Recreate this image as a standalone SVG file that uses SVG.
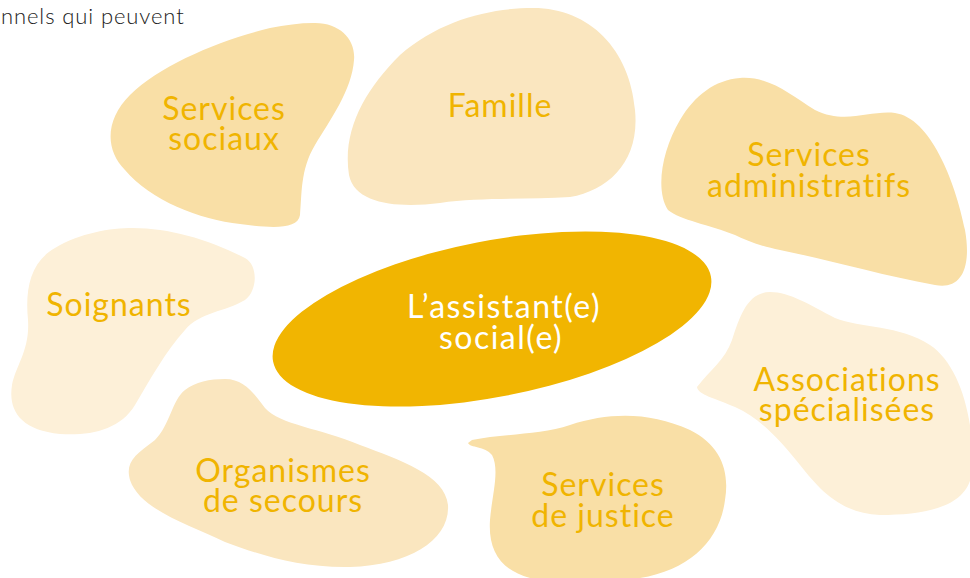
<svg xmlns="http://www.w3.org/2000/svg" width="970" height="578" viewBox="0 0 970 578">
<style>
.lbl{font-family:Lato,"Open Sans","Liberation Sans",sans-serif;font-size:32px;letter-spacing:1px;fill:#F0B400;text-anchor:middle}
.c{fill:#FFFFFF;letter-spacing:1.5px}
.b1{fill:#F9DFA6}
.b2{fill:#FAE6BF}
.b3{fill:#FDF0D8}
</style>
<rect width="970" height="578" fill="#FFFFFF"/>
<text x="1" y="24" font-family="Lato,'Open Sans','Liberation Sans',sans-serif" font-size="22" font-weight="300" letter-spacing="0.9" fill="#1A1A1A">nnels qui peuvent</text>
<g id="connectors"></g>
<g id="services-sociaux">
<path class="b1" d="M313,23 C340,22 356,40 354,60 C352,90 330,120 315,145 C300,170 302,195 300,215 C298,230 270,228 240,224 C200,220 150,200 125,170 C105,150 105,120 130,95 C160,65 220,40 270,28 C285,25 300,23 313,23 Z"/>
<text class="lbl" x="224" y="120">Services</text>
<text class="lbl" x="224" y="150">sociaux</text>
</g>
<g id="famille">
<path class="b2" d="M533,8 C590,8 630,50 635,110 C640,160 610,190 570,197 C530,200 480,197 440,203 C400,208 355,205 349,175 C342,130 365,90 400,55 C440,20 490,8 533,8 Z"/>
<text class="lbl" x="500" y="117">Famille</text>
</g>
<g id="services-administratifs">
<path class="b1" d="M740,78 C770,76 790,95 815,110 C845,125 870,110 895,113 C930,118 955,180 965,230 C972,270 960,290 935,285 C880,275 830,260 780,250 C760,246 745,240 735,235 C710,225 680,220 668,210 C655,190 662,150 680,120 C695,95 715,80 740,78 Z"/>
<text class="lbl" x="809" y="166">Services</text>
<text class="lbl" x="809" y="197">administratifs</text>
</g>
<g id="soignants">
<path class="b3" d="M133,228 C170,228 210,240 245,258 C258,265 258,290 245,300 C225,312 200,312 185,330 C165,352 150,380 135,405 C120,430 90,436 60,434 C20,430 8,410 12,385 C16,365 30,350 28,320 C25,290 30,262 55,248 C80,233 110,228 133,228 Z"/>
<text class="lbl" x="119" y="316">Soignants</text>
</g>
<g id="associations">
<path class="b3" d="M770,292 C790,292 810,305 835,318 C860,328 900,325 930,345 C960,365 975,420 972,470 C970,505 930,515 880,515 C840,513 820,490 800,465 C780,440 760,418 735,407 C715,398 698,395 697,387 C710,370 725,360 732,340 C740,315 748,292 770,292 Z"/>
<text class="lbl" x="847" y="391">Associations</text>
<text class="lbl" x="847" y="421">spécialisées</text>
</g>
<g id="organismes">
<path class="b2" d="M225,379 C245,379 255,395 265,408 C280,425 320,428 360,445 C400,460 445,475 448,505 C450,540 410,565 350,567 C300,568 260,555 225,542 C190,525 140,510 130,480 C125,462 135,455 155,440 C170,425 172,400 185,390 C195,382 210,379 225,379 Z"/>
<text class="lbl" x="283" y="482">Organismes</text>
<text class="lbl" x="283" y="512">de secours</text>
</g>
<g id="justice">
<path class="b1" d="M472,440 C500,434 540,435 570,425 C610,412 650,412 690,430 C720,445 730,470 725,500 C720,540 690,570 640,578 L530,578 C500,570 488,550 490,520 C492,495 500,470 492,455 C485,446 470,448 468,443 Z"/>
<text class="lbl" x="603" y="496">Services</text>
<text class="lbl" x="603" y="527">de justice</text>
</g>
<g id="assistant">
<ellipse cx="492" cy="319" rx="223" ry="78" transform="rotate(-11 492 319)" fill="#F1B501"/>
<text class="lbl c" x="504" y="318">L’assistant(e)</text>
<text class="lbl c" x="501" y="349">social(e)</text>
</g>
</svg>
